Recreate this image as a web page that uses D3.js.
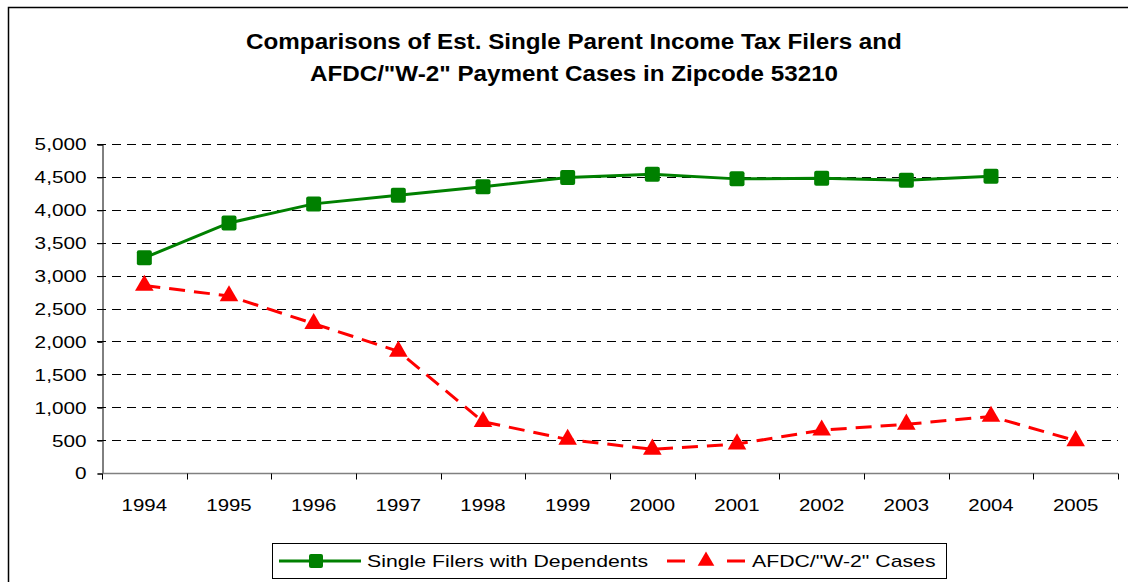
<!DOCTYPE html>
<html>
<head>
  <meta charset="utf-8">
  <style>
    body { margin: 0; background: #fff; }
    text { font-family: "Liberation Sans", Arial, sans-serif; fill: #000; }
  </style>
</head>
<body>
<script src="https://d3js.org/d3.v7.min.js"></script>
<script>

// data
var years = ["1994","1995","1996","1997","1998","1999","2000","2001","2002","2003","2004","2005"];
var singleFilers = [3270, 3800, 4090, 4220, 4350, 4490, 4540, 4470, 4480, 4450, 4510, null];
var afdcCases = [2850, 2690, 2270, 1850, 780, 510, 360, 440, 650, 740, 860, 490];
var yTicks = [0, 500, 1000, 1500, 2000, 2500, 3000, 3500, 4000, 4500, 5000];
var titleLines = ["Comparisons of Est. Single Parent Income Tax Filers and",
                  "AFDC/\"W-2\" Payment Cases in Zipcode 53210"];
var seriesNames = ["Single Filers with Dependents", "AFDC/\"W-2\" Cases"];

var width = 1128, height = 582;
var plotLeft = 102, plotRight = 1118, plotTop = 144, plotBottom = 473;

var svg = d3.select("body").append("svg")
    .attr("width", width)
    .attr("height", height);

// stretch text horizontally a bit, the original was scaled wider
function stretch(sel, k) {
  sel.each(function() {
    var w = this.getComputedTextLength();
    d3.select(this).attr("textLength", w * k).attr("lengthAdjust", "spacingAndGlyphs");
  });
}

// outer chart border (runs off the right and bottom)
svg.append("rect")
    .attr("x", 8.5).attr("y", 7.5)
    .attr("width", 1200).attr("height", 700)
    .attr("fill", "none").attr("stroke", "#000").attr("stroke-width", 1.5);

// title
svg.selectAll(".title").data(titleLines).enter().append("text")
    .attr("class", "title")
    .attr("x", 574)
    .attr("y", function(d, i) { return 49 + i * 32; })
    .attr("text-anchor", "middle")
    .style("font-size", "22px")
    .style("font-weight", "bold")
    .text(function(d) { return d; })
    .call(stretch, 1.1);

var x = d3.scaleBand().domain(years).range([plotLeft, plotRight]);
var y = d3.scaleLinear().domain([0, 5000]).range([plotBottom, plotTop]);

// gridlines
svg.append("g").selectAll("line").data(yTicks.filter(function(d) { return d > 0; }))
  .enter().append("line")
    .attr("x1", plotLeft - 5).attr("x2", plotRight)
    .attr("y1", function(d) { return Math.round(y(d)) + 0.5; })
    .attr("y2", function(d) { return Math.round(y(d)) + 0.5; })
    .attr("stroke", "#000")
    .attr("stroke-dasharray", "9,6");

// y axis
var yAxis = svg.append("g")
    .attr("transform", "translate(" + (plotLeft + 0.5) + ",0.5)")
    .call(d3.axisLeft(y).tickValues(yTicks).tickSize(5).tickPadding(11)
          .tickFormat(d3.format(",")));
yAxis.select(".domain").attr("stroke", "#000");
yAxis.selectAll(".tick line").attr("stroke", "#000");
yAxis.selectAll("text").style("font-size", "17px").call(stretch, 1.22);

// x axis, ticks between the categories
var xAxis = svg.append("g")
    .attr("transform", "translate(0," + (plotBottom + 0.5) + ")");
xAxis.append("line")
    .attr("x1", plotLeft).attr("x2", plotRight)
    .attr("stroke", "#808080").attr("stroke-width", 1.5);
var bounds = years.map(function(d) { return x(d); }).concat([plotRight]);
xAxis.selectAll(".tk").data(bounds).enter().append("line")
    .attr("x1", function(d) { return Math.round(d) + 0.5; })
    .attr("x2", function(d) { return Math.round(d) + 0.5; })
    .attr("y1", 0).attr("y2", 6)
    .attr("stroke", "#000");
xAxis.selectAll("text").data(years).enter().append("text")
    .attr("x", function(d) { return x(d) + x.bandwidth() / 2; })
    .attr("y", 37)
    .attr("text-anchor", "middle")
    .style("font-size", "17px")
    .text(function(d) { return d; })
    .call(stretch, 1.2);

var cx = function(d, i) { return x(years[i]) + x.bandwidth() / 2; };

// green series
var lineG = d3.line()
    .defined(function(d) { return d != null; })
    .x(cx)
    .y(function(d) { return y(d); });
svg.append("path")
    .attr("d", lineG(singleFilers))
    .attr("fill", "none").attr("stroke", "#008000").attr("stroke-width", 3);
svg.selectAll(".sq").data(singleFilers).enter().append("rect")
    .filter(function(d) { return d != null; })
    .attr("x", function(d, i) { return cx(d, i) - 7.5; })
    .attr("y", function(d) { return y(d) - 7.5; })
    .attr("width", 15).attr("height", 15).attr("rx", 2)
    .attr("fill", "#008000");

// red series
var lineR = d3.line().x(cx).y(function(d) { return y(d); });
svg.append("path")
    .attr("d", lineR(afdcCases))
    .attr("fill", "none").attr("stroke", "#ff0000").attr("stroke-width", 3)
    .attr("stroke-dasharray", "16,9");
var tri = d3.symbol().type(d3.symbolTriangle).size(150);
svg.selectAll(".tri").data(afdcCases).enter().append("path")
    .attr("d", tri)
    .attr("transform", function(d, i) { return "translate(" + cx(d, i) + "," + y(d) + ")"; })
    .attr("fill", "#ff0000");

// legend
var lg = svg.append("g");
lg.append("rect")
    .attr("x", 272.5).attr("y", 543.5).attr("width", 674).attr("height", 35)
    .attr("fill", "#fff").attr("stroke", "#000");
lg.append("line").attr("x1", 279).attr("x2", 361).attr("y1", 561).attr("y2", 561)
    .attr("stroke", "#008000").attr("stroke-width", 3);
lg.append("rect").attr("x", 309).attr("y", 554).attr("width", 14).attr("height", 14)
    .attr("rx", 2).attr("fill", "#008000");
lg.append("line").attr("x1", 667).attr("x2", 745).attr("y1", 561).attr("y2", 561)
    .attr("stroke", "#ff0000").attr("stroke-width", 3).attr("stroke-dasharray", "18,42");
lg.append("path").attr("d", d3.symbol().type(d3.symbolTriangle).size(120))
    .attr("transform", "translate(706,561)").attr("fill", "#ff0000");
lg.selectAll("text").data(seriesNames).enter().append("text")
    .attr("x", function(d, i) { return i === 0 ? 367 : 752; })
    .attr("y", 567)
    .style("font-size", "17px")
    .text(function(d) { return d; })
    .call(stretch, 1.25);

</script>
</body>
</html>
